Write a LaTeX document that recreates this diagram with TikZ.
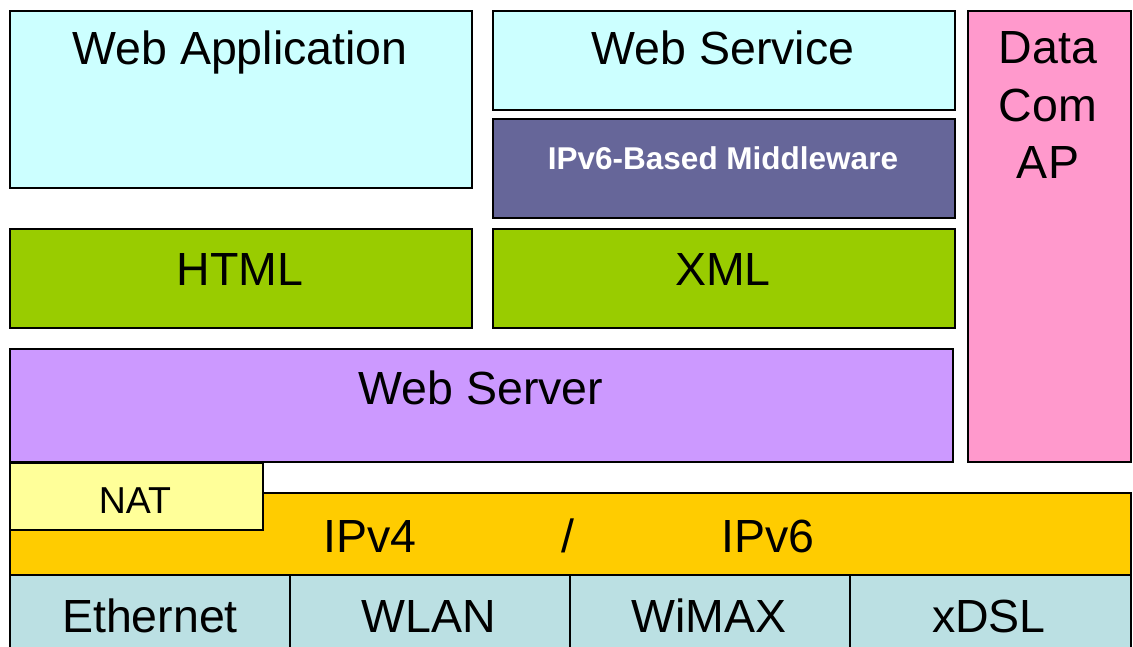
\documentclass[tikz,border=0pt]{standalone}
\usepackage{fontspec}
\setmainfont{Liberation Sans}
\definecolor{appcyan}{HTML}{CCFFFF}
\definecolor{midblue}{HTML}{666699}
\definecolor{markup}{HTML}{99CC00}
\definecolor{server}{HTML}{CC99FF}
\definecolor{apink}{HTML}{FF99CC}
\definecolor{natyellow}{HTML}{FFFF99}
\definecolor{ipgold}{HTML}{FFCC00}
\definecolor{linkblue}{HTML}{BBE0E3}
\tikzset{
  layer/.style={draw=black, line width=1.6pt, inner sep=0pt, anchor=north west},
  lbl/.style={anchor=base, inner sep=0pt, font=\fontsize{46.5}{58}\selectfont},
}
\newcommand{\layerbox}[6]{% name, colour, x0, y0, x1, y1
  \node[layer, fill=#2, minimum width={(#5-#3)*1pt}, minimum height={(#6-#4)*1pt}] (#1) at (#3,#4) {};}
\begin{document}
\begin{tikzpicture}[x=1pt,y=-1pt]
\useasboundingbox[fill=white] (0,0) rectangle (1133,647);
% upper application layers
\layerbox{webapp}{appcyan}{9}{10}{471}{187}
\layerbox{websvc}{appcyan}{492}{10}{954}{109}
\layerbox{middle}{midblue}{492}{118}{954}{217}
\layerbox{html}{markup}{9}{228}{471}{327}
\layerbox{xml}{markup}{492}{228}{954}{327}
\layerbox{server}{server}{9}{348}{952}{461}
\layerbox{datacom}{apink}{967}{10}{1130}{461}
% network layer with the NAT block on top
\layerbox{ip}{ipgold}{9}{492}{1130}{574}
\layerbox{nat}{natyellow}{9}{462}{262}{529}
% link layer
\layerbox{eth}{linkblue}{9}{574}{289}{690}
\layerbox{wlan}{linkblue}{289}{574}{569}{690}
\layerbox{wimax}{linkblue}{569}{574}{849}{690}
\layerbox{xdsl}{linkblue}{849}{574}{1130}{690}
% labels
\node[lbl] at (240,65) {Web Application};
\node[lbl] at (723,65) {Web Service};
\node[lbl, text=white, font=\fontsize{31.5}{36}\bfseries] at (723,170) {IPv6-Based Middleware};
\node[lbl] at (240,285) {HTML};
\node[lbl] at (723,285) {XML};
\node[lbl] at (481,404) {Web Server};
\node[anchor=north, inner sep=0pt, align=center, font=\fontsize{46.5}{57.5}\selectfont] at (1048,31.5) {Data\\Com\\AP};
\node[lbl, font=\fontsize{37.5}{44}\selectfont] at (135,513) {NAT};
\node[lbl] at (370,552) {IPv4};
\node[lbl] at (568,552) {/};
\node[lbl] at (768,552) {IPv6};
\node[lbl] at (150,632) {Ethernet};
\node[lbl] at (429,632) {WLAN};
\node[lbl] at (709,632) {WiMAX};
\node[lbl] at (989,632) {xDSL};
\end{tikzpicture}
\end{document}
